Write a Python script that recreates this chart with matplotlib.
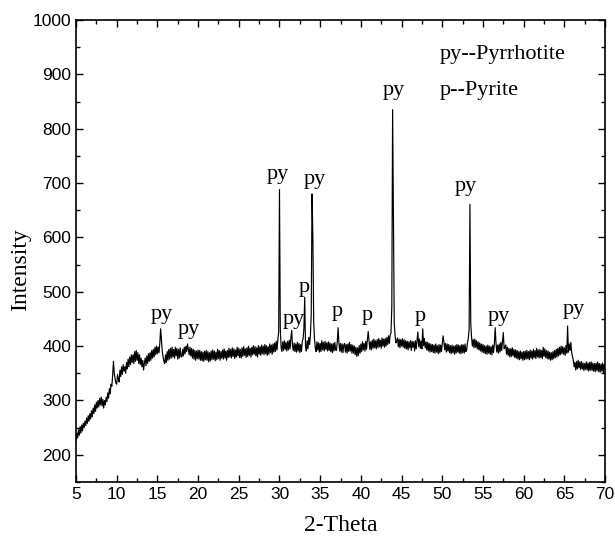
import numpy as np
import matplotlib
matplotlib.use("Agg")
import matplotlib.pyplot as plt
from matplotlib.ticker import MultipleLocator

# ---------------------------------------------------------------------------
# data: XRD intensity, one row = one degree (d.0 .. d.9)
# ---------------------------------------------------------------------------
intensity = [
    226, 240, 231, 246, 236, 252, 240, 255, 244, 258,   # 5
    250, 262, 254, 268, 258, 272, 262, 276, 266, 281,   # 6
    270, 286, 276, 292, 280, 297, 286, 300, 288, 304,   # 7
    292, 306, 290, 302, 286, 300, 292, 306, 298, 314,   # 8
    304, 322, 312, 330, 326, 346, 372, 350, 340, 332,   # 9
    330, 348, 340, 334, 356, 344, 362, 348, 366, 354,   # 10
    362, 350, 370, 358, 376, 362, 380, 366, 384, 370,   # 11
    384, 368, 390, 372, 392, 374, 388, 368, 384, 366,   # 12
    378, 362, 374, 356, 368, 378, 364, 382, 368, 386,   # 13
    372, 388, 374, 392, 378, 394, 380, 398, 384, 400,   # 14
    386, 398, 388, 406, 432, 410, 390, 380, 372, 368,   # 15
    384, 370, 390, 374, 394, 376, 396, 378, 398, 380,   # 16
    394, 378, 398, 382, 396, 376, 394, 378, 397, 381,   # 17
    380, 394, 382, 398, 386, 400, 390, 404, 394, 384,   # 18
    398, 382, 396, 378, 394, 376, 392, 374, 391, 377,   # 19
    393, 376, 392, 374, 390, 373, 389, 372, 391, 375,   # 20
    392, 374, 390, 371, 388, 373, 391, 375, 393, 376,   # 21
    391, 373, 389, 375, 394, 377, 392, 374, 390, 378,   # 22
    393, 376, 395, 378, 391, 374, 392, 379, 396, 380,   # 23
    394, 378, 397, 381, 395, 377, 393, 380, 398, 382,   # 24
    396, 379, 394, 378, 397, 381, 399, 383, 395, 379,   # 25
    397, 381, 400, 383, 396, 380, 398, 384, 401, 385,   # 26
    399, 382, 397, 380, 401, 385, 399, 383, 402, 386,   # 27
    400, 384, 403, 386, 401, 383, 399, 385, 404, 388,   # 28
    402, 385, 404, 389, 406, 390, 409, 393, 412, 426,   # 29
    688, 432, 398, 390, 408, 392, 410, 394, 407, 391,   # 30
    409, 393, 411, 395, 415, 429, 400, 392, 406, 390,   # 31
    404, 389, 407, 391, 405, 388, 403, 390, 408, 414,   # 32
    432, 490, 398, 391, 410, 395, 416, 403, 420, 458,   # 33
    680, 602, 446, 414, 396, 390, 408, 393, 406, 389,   # 34
    405, 390, 410, 393, 407, 391, 409, 394, 406, 391,   # 35
    408, 392, 406, 390, 404, 388, 405, 391, 407, 393,   # 36
    392, 408, 434, 406, 391, 405, 389, 404, 388, 402,   # 37
    405, 389, 403, 387, 404, 390, 407, 391, 403, 387,   # 38
    402, 387, 400, 384, 398, 381, 397, 383, 401, 387,   # 39
    404, 390, 408, 393, 405, 391, 409, 394, 412, 427,   # 40
    410, 394, 408, 393, 411, 396, 413, 397, 410, 395,   # 41
    412, 397, 414, 399, 411, 396, 415, 400, 413, 398,   # 42
    414, 400, 416, 403, 419, 405, 421, 424, 472, 835,   # 43
    634, 442, 420, 406, 410, 415, 399, 413, 397, 412,   # 44
    400, 414, 398, 412, 396, 410, 395, 409, 393, 408,   # 45
    397, 410, 392, 409, 398, 408, 391, 410, 395, 411,   # 46
    426, 399, 413, 396, 409, 395, 432, 401, 414, 397,   # 47
    408, 393, 407, 391, 405, 389, 404, 390, 403, 388,   # 48
    402, 387, 404, 389, 401, 386, 403, 388, 402, 390,   # 49
    405, 419, 408, 393, 405, 389, 404, 391, 403, 388,   # 50
    401, 386, 402, 388, 400, 385, 401, 387, 403, 389,   # 51
    402, 387, 401, 386, 403, 388, 402, 387, 404, 390,   # 52
    393, 407, 414, 431, 661, 442, 416, 400, 412, 397,   # 53
    413, 398, 410, 395, 408, 393, 406, 391, 404, 389,   # 54
    403, 388, 401, 386, 400, 385, 402, 387, 400, 385,   # 55
    399, 384, 402, 388, 404, 434, 406, 389, 402, 387,   # 56
    404, 389, 407, 392, 409, 425, 395, 398, 402, 385,   # 57
    398, 383, 396, 380, 395, 381, 397, 382, 394, 379,   # 58
    393, 378, 392, 376, 390, 375, 391, 377, 389, 374,   # 59
    390, 375, 391, 376, 392, 377, 390, 375, 393, 378,   # 60
    391, 376, 394, 379, 392, 377, 396, 380, 393, 378,   # 61
    394, 379, 392, 377, 398, 381, 395, 379, 392, 377,   # 62
    391, 376, 389, 374, 388, 375, 390, 377, 392, 379,   # 63
    394, 380, 396, 382, 398, 384, 400, 386, 399, 385,   # 64
    397, 383, 401, 387, 437, 389, 404, 392, 407, 388,   # 65
    381, 374, 362, 370, 356, 372, 358, 374, 360, 371,   # 66
    357, 372, 358, 369, 355, 368, 357, 371, 356, 369,   # 67
    354, 370, 356, 371, 355, 369, 354, 368, 353, 369,   # 68
    355, 371, 353, 368, 352, 367, 354, 369, 351, 366,   # 69
    360,                                                # 70
]
two_theta = np.linspace(5, 70, len(intensity))

# phase labels above the peaks: (text, 2theta, intensity)
peak_labels = ["py", "py", "py", "py", "p", "py", "p", "p", "py", "p", "py", "py", "py"]
peak_x = [15.6, 18.9, 29.8, 31.7, 33.0, 34.4, 37.1, 40.8, 44.0, 47.3, 52.9, 57.0, 66.2]
peak_y = [458, 430, 715, 449, 507, 706, 464, 456, 871, 455, 694, 455, 468]

legend_lines = ["py--Pyrrhotite", "p--Pyrite"]

SERIF = "Liberation Serif"
SANS = "Liberation Sans"

# ---------------------------------------------------------------------------
# plot
# ---------------------------------------------------------------------------
fig = plt.figure(figsize=(6.15, 5.39), dpi=100)
ax = fig.add_axes([0.1236, 0.1057, 0.8602, 0.8572])

ax.plot(two_theta, intensity, c="k", lw=0.85)

for t, x, y in zip(peak_labels, peak_x, peak_y):
    ax.text(x, y, t, ha="center", va="center", fontsize=16, family=SERIF)

ax.text(49.7, 936, legend_lines[0], ha="left", va="center", fontsize=16, family=SERIF)
ax.text(49.7, 871, legend_lines[1], ha="left", va="center", fontsize=16, family=SERIF)

ax.set_xlim(5, 70)
ax.set_ylim(150, 1000)
ax.xaxis.set_major_locator(MultipleLocator(5))
ax.xaxis.set_minor_locator(MultipleLocator(2.5))
ax.yaxis.set_minor_locator(MultipleLocator(50))
ax.set_yticks([200, 300, 400, 500, 600, 700, 800, 900, 1000])
ax.tick_params(which="both", direction="in", top=True, right=True, width=1)
ax.tick_params(which="major", length=5, labelsize=12.5)
ax.tick_params(which="minor", length=3)
for lab in ax.get_xticklabels() + ax.get_yticklabels():
    lab.set_family(SANS)
for s in ax.spines.values():
    s.set_linewidth(1.2)

ax.set_xlabel("2-Theta", fontsize=17, family=SERIF)
ax.set_ylabel("Intensity", fontsize=17, family=SERIF)
ax.xaxis.set_label_coords(0.5, -0.072)
ax.yaxis.set_label_coords(-0.085, 0.46)

fig.savefig("out.png", dpi=100)
